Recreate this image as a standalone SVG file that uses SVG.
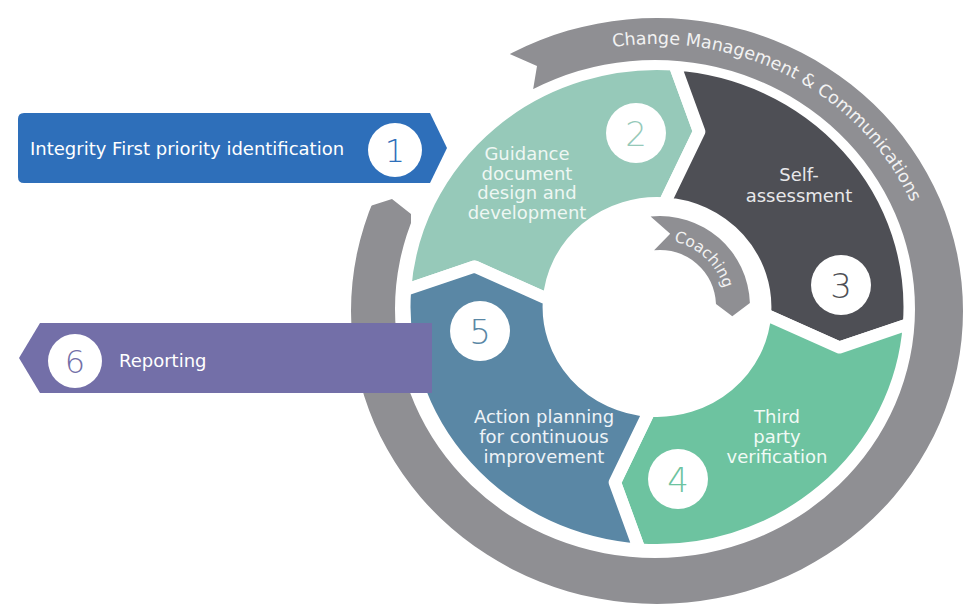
<svg xmlns="http://www.w3.org/2000/svg" width="963" height="604" viewBox="0 0 963 604">
<style>
.lbl{font-family:"DejaVu Sans","Liberation Sans",sans-serif;font-size:18px;text-anchor:middle}
.num{font-family:"DejaVu Sans","Liberation Sans",sans-serif;font-size:34px;font-weight:200;text-anchor:middle}
.bnum{font-family:"DejaVu Sans","Liberation Sans",sans-serif;font-size:32px;font-weight:200;text-anchor:middle}
.seg{stroke:#ffffff;stroke-width:12;stroke-linejoin:round}
.band{fill:#8f8f93}
.ctext{font-family:"DejaVu Sans","Liberation Sans",sans-serif;fill:#f2f2f2}
</style>
<defs>
<clipPath id="ringClip"><polygon points="655,309 411,224 411,214 392,199 367,207 320,212 0,230 0,604 963,604 963,0 498,0 505,52 537,66 533,90"/></clipPath>
<path id="ringTextPath" d="M560.58 60.04 A279 266 0 0 1 933.94 286.82" fill="none"/>
<path id="coachPath" d="M665.75 240.25 A66 66 0 0 1 725 317.5" fill="none"/>
</defs>
<rect width="963" height="604" fill="#ffffff"/>

<g id="step2">
<path class="seg" fill="#96c9b9" transform="translate(657,307) scale(1.04,1)" d="M-242.41 -16.95 A243 243 0 0 1 16.95 -242.41 L40.49 -175.39 L7.26 -103.75 A104 104 0 0 0 -103.75 -7.26 L-175.39 -40.49 Z"/>
<circle cx="636" cy="133" r="30" fill="#ffffff"/>
<text class="num" x="636" y="145.5" fill="#96c9b9">2</text>
<text class="lbl" fill="#eef7f3"><tspan x="527" y="160">Guidance</tspan><tspan x="527" y="179.5">document</tspan><tspan x="527" y="199">design and</tspan><tspan x="527" y="218.5">development</tspan></text>
</g>

<g id="step3">
<path class="seg" fill="#4e4f55" transform="translate(657,307) scale(1.04,1)" d="M16.95 -242.41 A243 243 0 0 1 242.41 16.95 L175.39 40.49 L103.75 7.26 A104 104 0 0 0 7.26 -103.75 L40.49 -175.39 Z"/>
<circle cx="841" cy="285" r="30" fill="#ffffff"/>
<text class="num" x="841" y="297.5" fill="#4e4f55">3</text>
<text class="lbl" fill="#e8e8ea"><tspan x="799" y="181">Self-</tspan><tspan x="799" y="202">assessment</tspan></text>
</g>

<g id="step4">
<path class="seg" fill="#6dc3a0" transform="translate(657,307) scale(1.04,1)" d="M242.41 16.95 A243 243 0 0 1 -16.95 242.41 L-40.49 175.39 L-7.26 103.75 A104 104 0 0 0 103.75 7.26 L175.39 40.49 Z"/>
<circle cx="678" cy="479" r="30" fill="#ffffff"/>
<text class="num" x="678" y="491.5" fill="#6dc3a0">4</text>
<text class="lbl" fill="#f0faf5"><tspan x="777" y="423">Third</tspan><tspan x="777" y="443">party</tspan><tspan x="777" y="463">verification</tspan></text>
</g>

<g id="step5">
<path class="seg" fill="#5a87a5" transform="translate(657,307) scale(1.04,1)" d="M-16.95 242.41 A243 243 0 0 1 -242.41 -16.95 L-175.39 -40.49 L-103.75 -7.26 A104 104 0 0 0 -7.26 103.75 L-40.49 175.39 Z"/>
<circle cx="480" cy="331" r="30" fill="#ffffff"/>
<text class="num" x="480" y="343.5" fill="#5a87a5">5</text>
<text class="lbl" fill="#eef3f7"><tspan x="544" y="423">Action planning</tspan><tspan x="544" y="443">for continuous</tspan><tspan x="544" y="463">improvement</tspan></text>
</g>

<g id="change-management">
<path class="band" clip-path="url(#ringClip)" fill-rule="evenodd" d="M351 311 A306 293 0 1 0 963 311 A306 293 0 1 0 351 311 Z M395 309 A260 249 0 1 0 915 309 A260 249 0 1 0 395 309 Z"/>
<text class="ctext" font-size="17.5"><textPath href="#ringTextPath" startOffset="54">Change Management &amp; Communications</textPath></text>
</g>

<g id="coaching">
<path class="band" d="M650.6 216.5 A90 90 0 0 1 749.9 302.9 L732.3 316.2 L716 304 A56 56 0 0 0 654.1 250.3 L670.2 233.7 Z"/>
<text class="ctext" font-size="15.5"><textPath href="#coachPath" startOffset="8">Coaching</textPath></text>
</g>

<g id="step1">
<path fill="#2e6fba" d="M24 113 L430 113 L447 148 L430 183 L24 183 Q18 183 18 177 L18 119 Q18 113 24 113 Z"/>
<text x="30" y="155" fill="#ffffff" font-family="DejaVu Sans, Liberation Sans, sans-serif" font-size="18">Integrity First priority identification</text>
<circle cx="395" cy="150" r="27" fill="#ffffff"/>
<text class="bnum" x="395" y="161.5" fill="#2e6fba">1</text>
</g>

<g id="step6">
<path fill="#736fa8" d="M432 323 L432 393 L40 393 L19 358 L40 323 Z"/>
<circle cx="75" cy="361" r="27" fill="#ffffff"/>
<text class="bnum" x="75" y="372.5" fill="#736fa8">6</text>
<text x="119" y="367" fill="#ffffff" font-family="DejaVu Sans, Liberation Sans, sans-serif" font-size="18">Reporting</text>
</g>
</svg>
